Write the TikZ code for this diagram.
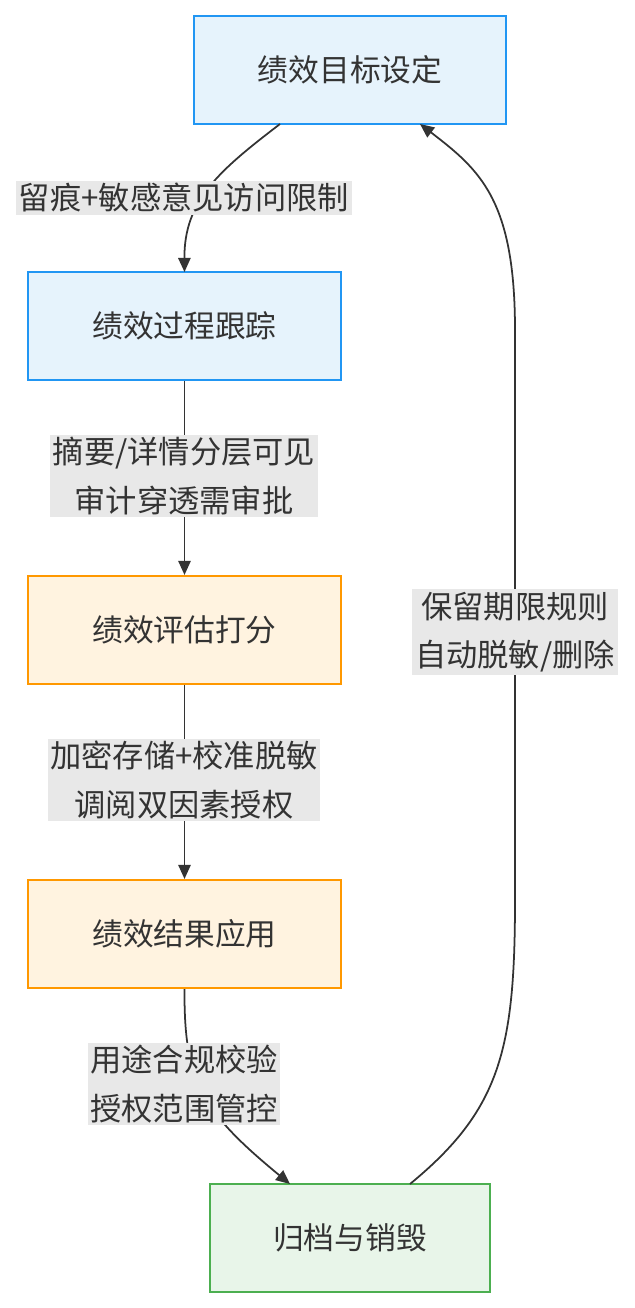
\documentclass[tikz,border=0pt]{standalone}
\usepackage{fontspec}
\setmainfont{Noto Sans CJK SC}
\usetikzlibrary{arrows.meta}
\definecolor{bfill}{HTML}{E6F3FC}\definecolor{bline}{HTML}{2196F3}
\definecolor{ofill}{HTML}{FFF3E0}\definecolor{oline}{HTML}{FF9800}
\definecolor{gfill}{HTML}{E8F5E9}\definecolor{gline}{HTML}{4CAF50}
\definecolor{lbg}{HTML}{E8E8E8}\definecolor{txt}{HTML}{333333}
\begin{document}
\begin{tikzpicture}[x=0.02cm,y=-0.02cm,
  box/.style={draw,line width=1.2pt,minimum width=#1*0.02cm,minimum height=2.16cm,inner sep=0pt,font=\fontsize{17.5}{20}\selectfont,text=txt},
  lbl/.style={fill=lbg,align=center,inner sep=1.5pt,font=\fontsize{17.8}{27.5}\selectfont,text=txt},
  arr/.style={draw=txt,line width=1pt,-{Triangle[length=8pt,width=7pt]}}]
\useasboundingbox (0,0) rectangle (635,1308);
\node[box=312,fill=bfill,draw=bline] (A) at (350,70) {绩效目标设定};
\node[box=313,fill=bfill,draw=bline] (B) at (184.5,326) {绩效过程跟踪};
\node[box=313,fill=ofill,draw=oline] (C) at (184.5,630) {绩效评估打分};
\node[box=313,fill=ofill,draw=oline] (D) at (184.5,934) {绩效结果应用};
\node[box=280,fill=gfill,draw=gline] (E) at (350,1238) {归档与销毁};
\coordinate (a1) at (280,124); \coordinate (a2) at (420,124);
\coordinate (e1) at (410,1184); \coordinate (e2) at (290,1184);
\coordinate (b1) at (184.5,272);
\draw[arr] (a1) .. controls (220,170) and (184,200) .. (b1);
\draw[arr] (B) -- (C);
\draw[arr] (C) -- (D);
\draw[arr] (D.south) .. controls (184,1080) and (200,1110) .. (e2);
\draw[arr] (e1) .. controls (500,1110) and (515,1050) .. (515,900) -- (515,330) .. controls (515,200) and (480,170) .. (a2);
\node[lbl] (l1) at (184,198) {留痕+敏感意见访问限制};
\node[lbl] (l2) at (184,476) {摘要/详情分层可见\\审计穿透需审批};
\node[lbl] (l3) at (184,780) {加密存储+校准脱敏\\调阅双因素授权};
\node[lbl] (l4) at (184,1084) {用途合规校验\\授权范围管控};
\node[lbl] (l5) at (515,632) {保留期限规则\\自动脱敏/删除};
\end{tikzpicture}
\end{document}
